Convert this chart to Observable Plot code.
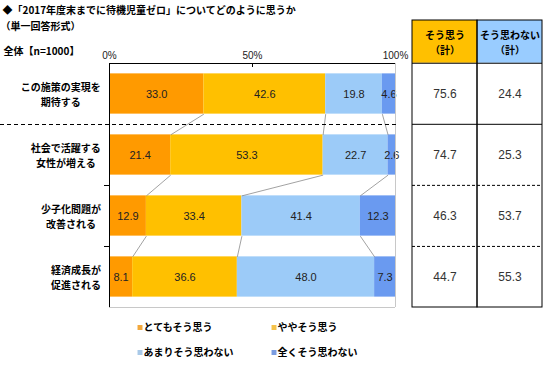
<!DOCTYPE html>
<html><head><meta charset="utf-8">
<script src="https://cdn.jsdelivr.net/npm/d3@7"></script>
<script src="https://cdn.jsdelivr.net/npm/@observablehq/plot@0.6"></script>
<style>
body{margin:0;background:#fff;}
#wrap{position:relative;width:543px;height:370px;overflow:hidden;}
#wrap svg{position:absolute;left:0;top:0;}
g[aria-label="values"] text{letter-spacing:1px;}
</style></head><body><div id="wrap"></div>
<script>
const categories = ["この施策の実現を\n期待する","社会で活躍する\n女性が増える","少子化問題が\n改善される","経済成長が\n促進される"];
const seriesNames = ["とてもそう思う","ややそう思う","あまりそう思わない","全くそう思わない"];
const strongly = [33.0,21.4,12.9,8.1];
const somewhat = [42.6,53.3,33.4,36.6];
const notVery  = [19.8,22.7,41.4,48.0];
const notAtAll = [4.6,2.6,12.3,7.3];
const agreeTotal = [75.6,74.7,46.3,44.7];
const disagreeTotal = [24.4,25.3,53.7,55.3];
const tableHeaders = ["そう思う\n（計）","そう思わない\n（計）"];
const xTicks = [0,50,100];
const titleText = "◆「2017年度末までに待機児童ゼロ」についてどのように思うか";
const subtitleText = "（単一回答形式）";
const sampleText = "全体【n=1000】";

const barColors = ["#FF9A00","#FFC000","#9CCBF8","#6A9AF0"];
const legendColors = ["#F2A83C","#F5C24A","#A9C9E8","#7B9CE0"];
const headerColors = ["#FFC000","#99CCFF"];
const JP = "'Noto Sans CJK JP', sans-serif";
const NUM = "'Liberation Sans', Arial, sans-serif";

const series = [strongly, somewhat, notVery, notAtAll];
const segs = [];
const cums = categories.map((c, i) => {
  let cum = 0; const b = [0];
  series.forEach((s, j) => {
    segs.push({row: i, s: j, x1: cum, x2: cum + s[i], v: s[i]});
    cum += s[i]; b.push(cum);
  });
  return b;
});
const links = [];
for (let i = 0; i < categories.length - 1; i++)
  for (let k = 1; k <= 3; k++)
    links.push({x1: cums[i][k], y1: i + 0.83, x2: cums[i + 1][k], y2: i + 1.17});

const FL = 109, FT = 63;
const catMarks = categories.map((c, i) => {
  const maxChars = Math.max(...c.split("\n").map(l => l.length));
  return Plot.text([c], {frameAnchor: "left", y: () => i + 0.5, dx: -(8 + maxChars * 10.2 / 2),
    textAnchor: "middle", lineAnchor: "middle", lineHeight: 1.5, fontSize: 10, fontWeight: "bold",
    fontFamily: JP, fill: "#000"});
});
const legendPos = [[137, 327], [271, 327], [137, 352], [271, 352]];
const legendMarks = seriesNames.flatMap((n, j) => [
  Plot.dot([n], {frameAnchor: "top-left", dx: legendPos[j][0] + 2.5 - FL, dy: legendPos[j][1] - FT,
    symbol: "square", r: 2.8, fill: legendColors[j], stroke: "none"}),
  Plot.text([n], {frameAnchor: "top-left", dx: legendPos[j][0] + 6 - FL, dy: legendPos[j][1] - FT,
    textAnchor: "start", lineAnchor: "middle", fontSize: 10, fontWeight: "bold", fontFamily: JP, fill: "#000"})
]);
const headText = (t, dx, dy) => Plot.text([t], {frameAnchor: "top-left", dx, dy, textAnchor: "start",
  lineAnchor: "middle", fontSize: 10, fontWeight: "bold", fontFamily: JP, fill: "#000"});

const main = Plot.plot({
  width: 543, height: 370, marginLeft: FL, marginRight: 148, marginTop: FT, marginBottom: 63,
  x: {domain: [0, 100], axis: null},
  y: {domain: [0, 4], range: [63, 307], axis: null},
  style: {background: "transparent", fontFamily: NUM},
  marks: [
    Plot.rect(segs, {x1: "x1", x2: "x2", y1: d => d.row + 0.17, y2: d => d.row + 0.83, fill: d => barColors[d.s]}),
    Plot.link(links, {x1: "x1", y1: "y1", x2: "x2", y2: "y2", stroke: "#8a8a8a", strokeWidth: 0.8}),
    Plot.text(segs, {x: d => (d.x1 + d.x2) / 2, y: d => d.row + 0.5, text: d => d.v.toFixed(1),
      fontSize: 11, fill: "#222"}),
    Plot.ruleY([4], {stroke: "#c8c8c8"}),
    Plot.ruleX([100], {stroke: "#c8c8c8"}),
    Plot.ruleY([0], {stroke: "#000"}),
    Plot.ruleX([0], {stroke: "#000"}),
    Plot.ruleX([50], {stroke: "#000", insetBottom: 240}),
    Plot.ruleY([2, 3], {stroke: "#000", insetLeft: -5, insetRight: 286}),
    Plot.ruleY([1], {stroke: "#000", insetLeft: -FL, insetRight: -2, strokeDasharray: "4,3"}),
    Plot.text(xTicks, {x: d => d, frameAnchor: "top", dy: -12, text: d => d + "%", fontSize: 10, fill: "#222"}),
    ...catMarks,
    headText(titleText, 2 - FL, 10 - FT),
    headText(subtitleText, 0 - FL, 26 - FT),
    headText(sampleText, 3 - FL, 51 - FT),
    ...legendMarks
  ]
});

const tableRows = [];
categories.forEach((c, i) => {
  tableRows.push({col: tableHeaders[0], row: i, v: agreeTotal[i]});
  tableRows.push({col: tableHeaders[1], row: i, v: disagreeTotal[i]});
});
const table = Plot.plot({
  width: 543, height: 370, marginLeft: 412, marginRight: 1, marginTop: 20, marginBottom: 63,
  x: {type: "band", domain: tableHeaders, range: [412, 542], padding: 0, axis: null},
  y: {domain: [-0.7, 4], range: [20, 307], axis: null},
  style: {background: "transparent", fontFamily: NUM},
  marks: [
    Plot.barY(tableHeaders, {x: d => d, y1: -0.7, y2: 0, fill: (d, i) => headerColors[i], inset: 0}),
    Plot.ruleY([0, 1], {stroke: "#000"}),
    Plot.ruleY([2, 3], {stroke: "#000", strokeDasharray: "3,2"}),
    Plot.barY(tableHeaders, {x: d => d, y1: -0.7, y2: 4, fill: "none", stroke: "#000", inset: 0}),
    Plot.text(tableHeaders, {x: d => d, y: -0.35, text: d => d, lineHeight: 1.5, fontSize: 10,
      fontWeight: "bold", fontFamily: JP, fill: "#000"}),
    Plot.text(tableRows, {x: "col", y: d => d.row + 0.5, text: d => d.v.toFixed(1), fontSize: 12,
      fill: "#333", ariaLabel: "values"})
  ]
});

const wrap = document.getElementById("wrap");
wrap.appendChild(main);
wrap.appendChild(table);
</script></body></html>
